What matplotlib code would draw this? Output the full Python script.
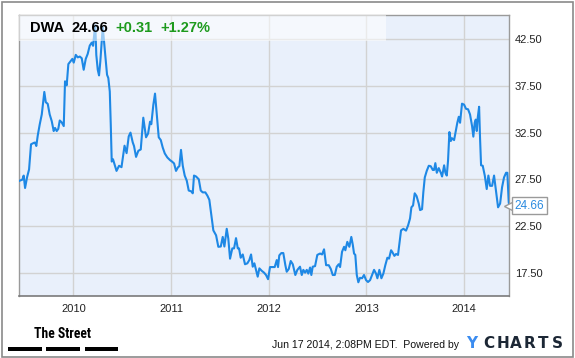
import matplotlib
matplotlib.use("Agg")
import matplotlib.pyplot as plt
from matplotlib.patches import Rectangle
from matplotlib import font_manager
import numpy as np

# ---- data (decimal year, price) ----
years = [
    2009.451, 2009.478, 2009.492, 2009.506, 2009.526, 2009.547, 2009.567, 2009.595, 2009.608, 2009.621,
    2009.636, 2009.656, 2009.677, 2009.703, 2009.718, 2009.738, 2009.758, 2009.779, 2009.799, 2009.813,
    2009.830, 2009.846, 2009.861, 2009.881, 2009.902, 2009.915, 2009.932, 2009.949, 2009.969, 2009.990,
    2010.004, 2010.025, 2010.045, 2010.066, 2010.086, 2010.106, 2010.127, 2010.147, 2010.168, 2010.188,
    2010.202, 2010.215, 2010.225, 2010.235, 2010.250, 2010.263, 2010.276, 2010.291, 2010.301, 2010.317,
    2010.332, 2010.345, 2010.358, 2010.373, 2010.383, 2010.393, 2010.406, 2010.442, 2010.468, 2010.493,
    2010.524, 2010.545, 2010.567, 2010.585, 2010.608, 2010.621, 2010.642, 2010.665, 2010.690, 2010.716,
    2010.744, 2010.765, 2010.785, 2010.798, 2010.819, 2010.836, 2010.854, 2010.874, 2010.895, 2010.915,
    2010.936, 2010.962, 2010.990, 2011.010, 2011.031, 2011.051, 2011.072, 2011.085, 2011.102, 2011.120,
    2011.140, 2011.161, 2011.181, 2011.208, 2011.222, 2011.235, 2011.256, 2011.284, 2011.304, 2011.324,
    2011.351, 2011.372, 2011.392, 2011.417, 2011.433, 2011.461, 2011.484, 2011.509, 2011.529, 2011.546,
    2011.570, 2011.586, 2011.604, 2011.627, 2011.645, 2011.665, 2011.683, 2011.696, 2011.713, 2011.734,
    2011.757, 2011.781, 2011.801, 2011.819, 2011.836, 2011.853, 2011.870, 2011.887, 2011.904, 2011.928,
    2011.952, 2011.972, 2011.993, 2012.013, 2012.041, 2012.061, 2012.082, 2012.095, 2012.108, 2012.129,
    2012.149, 2012.170, 2012.184, 2012.205, 2012.225, 2012.246, 2012.272, 2012.293, 2012.320, 2012.338,
    2012.354, 2012.372, 2012.389, 2012.405, 2012.423, 2012.436, 2012.450, 2012.474, 2012.497, 2012.525,
    2012.546, 2012.566, 2012.587, 2012.614, 2012.635, 2012.655, 2012.676, 2012.696, 2012.716, 2012.730,
    2012.750, 2012.771, 2012.784, 2012.804, 2012.825, 2012.845, 2012.860, 2012.873, 2012.886, 2012.901,
    2012.917, 2012.934, 2012.955, 2012.975, 2012.996, 2013.016, 2013.037, 2013.057, 2013.078, 2013.098,
    2013.112, 2013.132, 2013.153, 2013.173, 2013.193, 2013.214, 2013.231, 2013.252, 2013.265, 2013.286,
    2013.303, 2013.323, 2013.339, 2013.354, 2013.378, 2013.405, 2013.426, 2013.446, 2013.460, 2013.477,
    2013.494, 2013.513, 2013.535, 2013.549, 2013.569, 2013.582, 2013.597, 2013.617, 2013.638, 2013.658,
    2013.679, 2013.692, 2013.705, 2013.720, 2013.740, 2013.761, 2013.774, 2013.795, 2013.808, 2013.822,
    2013.835, 2013.849, 2013.863, 2013.876, 2013.897, 2013.917, 2013.930, 2013.945, 2013.958, 2013.978,
    2013.999, 2014.019, 2014.040, 2014.060, 2014.081, 2014.094, 2014.108, 2014.119, 2014.129, 2014.139,
    2014.153, 2014.163, 2014.173, 2014.190, 2014.211, 2014.231, 2014.248, 2014.265, 2014.286, 2014.306,
    2014.319, 2014.334, 2014.347, 2014.368, 2014.388, 2014.408, 2014.429, 2014.442, 2014.456, 2014.462,
]
prices = [
    27.35, 27.46, 27.90, 26.57, 27.70, 28.56, 31.25, 31.40, 31.44, 31.07,
    32.20, 33.38, 34.45, 36.86, 35.76, 35.58, 34.45, 33.73, 32.67, 33.00,
    32.67, 32.90, 33.80, 33.60, 33.20, 38.00, 37.56, 39.84, 40.12, 40.40,
    40.00, 40.83, 40.56, 40.65, 40.47, 39.23, 40.40, 40.93, 41.82, 42.14,
    41.80, 43.14, 44.00, 40.83, 39.23, 38.63, 40.10, 42.25, 43.80, 41.90,
    40.10, 38.70, 38.35, 36.90, 33.40, 29.40, 29.65, 28.40, 28.95, 28.80,
    31.10, 30.30, 32.10, 32.50, 31.45, 31.07, 29.90, 30.55, 30.70, 34.10,
    32.00, 32.40, 33.67, 33.40, 35.50, 36.68, 34.45, 32.00, 31.70, 30.90,
    30.27, 29.84, 29.55, 29.40, 29.20, 28.40, 28.80, 28.90, 30.65, 28.95,
    27.90, 27.35, 26.30, 26.20, 26.00, 27.90, 27.80, 27.50, 26.30, 26.10,
    26.10, 25.75, 25.30, 23.30, 22.03, 21.50, 20.27, 20.30, 21.33, 20.30,
    22.20, 21.15, 19.00, 20.10, 20.10, 21.20, 20.10, 20.10, 19.10, 19.45,
    18.40, 18.50, 18.85, 19.45, 18.14, 18.50, 17.78, 17.07, 17.96, 17.70,
    17.50, 17.25, 16.80, 18.10, 18.10, 18.10, 18.85, 18.10, 19.35, 19.60,
    19.60, 18.30, 17.60, 17.90, 18.75, 18.40, 17.25, 17.80, 18.14, 17.25,
    17.80, 17.50, 17.80, 17.40, 18.05, 17.25, 18.14, 18.20, 19.40, 19.55,
    19.45, 20.00, 18.30, 18.30, 17.90, 17.25, 17.25, 18.14, 18.40, 18.10,
    19.73, 20.27, 19.90, 20.80, 20.27, 21.33, 20.50, 19.55, 19.40, 17.25,
    16.47, 16.95, 16.90, 17.25, 16.70, 16.50, 16.70, 17.25, 17.80, 17.40,
    16.90, 17.80, 16.90, 17.40, 18.30, 19.10, 19.00, 19.90, 19.70, 19.30,
    19.50, 19.40, 20.80, 22.03, 22.20, 22.00, 22.56, 23.30, 24.50, 24.70,
    26.00, 25.70, 24.90, 24.20, 24.30, 26.10, 27.70, 28.40, 28.95, 28.90,
    28.50, 28.50, 29.23, 28.20, 28.70, 28.20, 27.80, 29.00, 28.20, 27.90,
    29.50, 32.56, 31.60, 31.90, 31.70, 32.85, 33.56, 34.20, 33.56, 35.60,
    35.50, 35.05, 35.00, 34.45, 33.20, 32.07, 33.56, 33.90, 32.67, 34.10,
    35.27, 31.80, 29.00, 28.95, 27.90, 26.46, 27.90, 26.80, 26.80, 27.90,
    26.80, 25.60, 24.50, 24.90, 26.65, 27.70, 28.20, 28.20, 25.05, 24.66,
]

x_ticks = [2010, 2011, 2012, 2013, 2014]
x_labels = ["2010", "2011", "2012", "2013", "2014"]
y_ticks = [17.5, 22.5, 27.5, 32.5, 37.5, 42.5]
y_labels = ["17.50", "22.50", "27.50", "32.50", "37.50", "42.50"]

ticker = "DWA"
last_price = "24.66"
change = "+0.31"
change_pct = "+1.27%"
footer = "Jun 17 2014, 2:08PM EDT.  Powered by"
brand_left = "The Street"
brand_right = "YCHARTS"

plt.rcParams['font.family'] = ['Liberation Sans', 'DejaVu Sans']

# look for a condensed/narrow family for the "The Street" logo
names = sorted({f.name for f in font_manager.fontManager.ttflist})
narrow = None
for cand in ["Liberation Sans Narrow", "DejaVu Sans Condensed", "Roboto Condensed",
             "Open Sans Condensed", "Noto Sans Condensed"]:
    if cand in names:
        narrow = cand
        break

W, H = 575, 358
fig = plt.figure(figsize=(W / 100, H / 100), dpi=100)
fig.patch.set_facecolor("white")

# outer frame
fig.patches.append(Rectangle((1.5 / W, 1.5 / H), 571 / W, 355 / H, transform=fig.transFigure,
                             fill=False, edgecolor="#8a8a8a", linewidth=1.2))

ax_l, ax_r, ax_t, ax_b = 19.3, 509.3, 15.0, 296.0
ax = fig.add_axes([ax_l / W, 1 - ax_b / H, (ax_r - ax_l) / W, (ax_b - ax_t) / H])
ax.set_facecolor("#e9f0fb")

ax.plot(years, prices, color="#1e88e5", linewidth=1.5, zorder=3, solid_joinstyle="round")

ax.set_xlim(2009.447, 2014.462)
ax.set_ylim(15.0, 45.1)

ax.set_xticks(x_ticks)
ax.set_xticklabels(x_labels)
ax.set_yticks(y_ticks)
ax.set_yticklabels(y_labels)
ax.yaxis.tick_right()
ax.tick_params(axis="both", length=0, labelsize=8, colors="#222222")
ax.tick_params(axis="y", pad=4.0)
ax.tick_params(axis="x", pad=6)
ax.grid(True, color="#d2d2d2", linewidth=1.0, zorder=1)
ax.set_axisbelow(True)
for side in ["left", "top", "right"]:
    ax.spines[side].set_color("#9a9a9a")
    ax.spines[side].set_linewidth(1.0)
ax.spines["bottom"].set_color("#7a7a7a")
ax.spines["bottom"].set_linewidth(1.2)

# translucent header box
hdr_w = (386 - ax_l) / (ax_r - ax_l)
hdr_h = (41 - ax_t) / (ax_b - ax_t)
ax.add_patch(Rectangle((0, 1 - hdr_h), hdr_w, hdr_h, transform=ax.transAxes,
                       facecolor="white", alpha=0.55, edgecolor="none", zorder=4))

ty = 1 - 27.5 / H
fs = 10.5
fig.text(30 / W, ty, ticker, fontsize=fs, fontweight="bold", color="black", va="center", zorder=5)
fig.text(71 / W, ty, last_price, fontsize=fs, fontweight="bold", color="black", va="center", zorder=5)
fig.text(115 / W, ty, change, fontsize=fs, fontweight="bold", color="#1d9a1d", va="center", zorder=5)
fig.text(160 / W, ty, change_pct, fontsize=fs, fontweight="bold", color="#1d9a1d", va="center", zorder=5)

# last price label
x_end = years[-1]
y_end = float(last_price)
ax.plot([x_end], [y_end], marker="<", markersize=7, markerfacecolor="white",
        markeredgecolor="#9a9a9a", markeredgewidth=1.0, clip_on=False, zorder=6)
ax.annotate(last_price, xy=(x_end, y_end), xytext=(4.0, 0), textcoords="offset points",
            fontsize=8.5, color="#2a8ae0", va="center", ha="left", annotation_clip=False,
            bbox=dict(boxstyle="square,pad=0.2", facecolor="white", edgecolor="#9a9a9a",
                      linewidth=1.0), zorder=7)

# footer: The Street logo
if narrow is not None:
    fig.text(63 / W, 1 - 334.5 / H, brand_left, fontsize=9.8, fontweight="bold",
             family=[narrow, "DejaVu Sans"], color="black", ha="center", va="center")
else:
    fig.text(63 / W, 1 - 334.5 / H, brand_left, fontsize=8.3, fontweight="bold",
             color="black", ha="center", va="center")
for x0, x1 in [(8.3, 41.7), (46.0, 80.0), (85.0, 117.7)]:
    fig.patches.append(Rectangle((x0 / W, 1 - 350.5 / H), (x1 - x0) / W, 4.0 / H,
                                 transform=fig.transFigure, facecolor="black", edgecolor="none"))

fig.text(459 / W, 1 - 345 / H, footer, fontsize=7.6, color="#111111", ha="right", va="center")
letter_x = [471.5, 488.8, 502.5, 516.2, 529.8, 543.5, 557.2]
for ch, cx in zip(brand_right, letter_x):
    fig.text(cx / W, 1 - 343 / H, ch, fontsize=11, fontweight="bold",
             color="#3b8cf0" if ch == "Y" else "#1c2735",
             family=["DejaVu Sans"], ha="center", va="center")

fig.savefig("out.png", dpi=100, facecolor="white")
